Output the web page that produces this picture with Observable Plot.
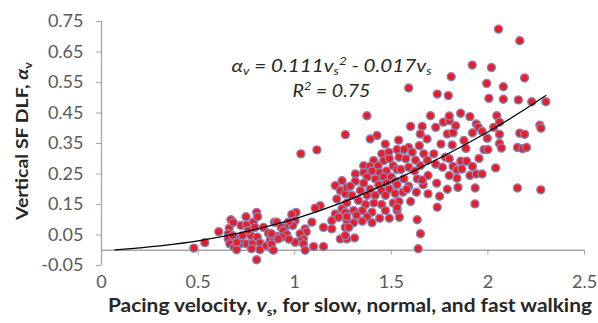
<!DOCTYPE html>
<html><head><meta charset="utf-8">
<script src="https://cdn.jsdelivr.net/npm/d3@7"></script>
<script src="https://cdn.jsdelivr.net/npm/@observablehq/plot@0.6"></script>
<style>body{margin:0;background:#fff;}#chart{width:598px;height:323px;}</style>
</head><body><div id="chart"></div>
<script>
// Pacing velocity v_s (m/s) of each measured walk
const velocity = [
0.478,0.535,0.607,0.661,0.670,0.682,0.656,0.656,0.664,0.687,0.700,0.708,0.722,0.748,0.751,0.730,0.725,0.751,0.773,0.780,
0.760,0.786,0.803,0.808,0.794,0.806,0.820,0.820,0.803,0.838,0.852,0.864,0.872,0.881,0.890,0.895,0.907,0.777,0.700,0.680,
1.262,1.032,1.115,1.210,1.245,1.236,1.218,1.262,1.270,1.245,1.210,1.192,1.227,1.262,1.270,1.262,1.236,1.270,1.192,1.149,
1.132,1.106,1.089,1.054,1.060,1.007,0.985,1.002,0.990,0.967,0.950,0.907,0.930,0.941,0.959,0.933,0.915,0.880,0.880,0.890,
1.028,1.045,1.028,1.002,1.045,1.054,1.098,1.149,0.970,
1.374,1.426,1.391,1.469,1.538,1.451,1.487,1.530,1.409,1.461,1.490,1.540,1.357,1.390,1.432,1.510,1.357,1.400,1.440,1.475,
1.530,1.314,1.375,1.417,1.460,1.500,1.314,1.357,1.435,1.475,1.520,1.288,1.390,1.340,1.450,1.490,1.296,1.375,1.417,1.470,
1.520,1.330,1.270,1.367,1.410,1.450,1.510,1.305,1.350,1.400,1.470,1.530,1.270,1.320,1.375,1.440,1.490,1.305,1.350,1.400,
1.280,1.262,1.310,
1.590,1.738,1.795,1.703,1.600,1.660,1.730,1.770,1.800,1.650,1.790,1.685,1.590,1.645,1.757,1.566,1.608,1.668,1.720,1.575,
1.625,1.687,1.780,1.590,1.650,1.730,1.550,1.620,1.765,1.565,1.635,1.690,1.530,1.590,1.665,1.735,1.560,1.630,1.690,1.540,
1.600,1.750,1.738,1.530,1.542,1.634,1.651,1.639,1.580,1.660,
2.055,1.919,2.018,1.810,1.994,2.080,2.005,2.080,1.859,1.907,1.800,2.046,2.060,1.833,1.940,1.950,1.970,1.920,2.030,1.820,
1.997,2.060,1.876,1.815,1.886,2.060,2.070,1.980,2.000,1.954,1.860,1.890,1.800,1.820,1.840,1.865,1.920,2.040,1.800,1.907,
1.940,1.970,1.840,1.790,1.845,1.934,1.933,
2.165,2.190,2.158,2.227,2.300,2.269,2.275,2.165,2.190,2.153,2.180,2.200,2.153,2.274
];
// Vertical SF dynamic load factor alpha_v of the same walks
const dlf = [
0.007,0.025,0.061,0.072,0.100,0.091,0.054,0.037,0.021,0.010,0.002,0.037,0.081,0.110,0.083,0.048,0.023,0.021,0.048,0.021,
0.065,0.092,0.124,0.110,0.075,0.043,0.024,0.002,-0.031,0.075,0.015,0.056,0.032,0.005,0.034,0.092,0.045,0.005,0.026,0.048,
0.379,0.316,0.329,0.212,0.228,0.196,0.168,0.185,0.206,0.136,0.119,0.097,0.108,0.124,0.097,0.075,0.037,0.037,0.070,0.075,
0.146,0.138,0.092,0.070,0.060,0.124,0.117,0.097,0.081,0.092,0.075,0.092,0.075,0.065,0.052,0.043,0.037,0.054,0.020,0.000,
0.054,0.037,0.030,0.026,0.021,0.000,0.012,0.012,0.036,
0.441,0.376,0.365,0.348,0.361,0.316,0.321,0.330,0.294,0.294,0.300,0.305,0.277,0.275,0.277,0.277,0.255,0.260,0.255,0.260,
0.265,0.250,0.240,0.234,0.240,0.240,0.226,0.220,0.215,0.220,0.226,0.210,0.200,0.196,0.196,0.200,0.180,0.180,0.180,0.180,
0.186,0.163,0.155,0.150,0.155,0.150,0.155,0.130,0.130,0.125,0.130,0.130,0.110,0.115,0.110,0.105,0.105,0.090,0.095,0.090,
0.075,0.048,0.040,
0.532,0.512,0.507,0.441,0.406,0.406,0.403,0.420,0.425,0.381,0.381,0.365,0.337,0.343,0.348,0.330,0.321,0.316,0.316,0.300,
0.295,0.295,0.305,0.272,0.277,0.282,0.265,0.260,0.272,0.234,0.234,0.245,0.215,0.210,0.215,0.220,0.190,0.190,0.185,0.160,
0.160,0.177,0.141,0.140,0.108,0.100,0.054,0.005,0.200,0.230,
0.725,0.607,0.599,0.569,0.547,0.536,0.498,0.495,0.449,0.438,0.440,0.441,0.420,0.408,0.414,0.403,0.390,0.385,0.403,0.385,
0.367,0.380,0.360,0.345,0.334,0.350,0.335,0.330,0.330,0.301,0.292,0.292,0.300,0.275,0.263,0.266,0.275,0.270,0.245,0.245,
0.250,0.250,0.236,0.200,0.206,0.204,0.152,
0.687,0.565,0.493,0.487,0.487,0.410,0.400,0.384,0.380,0.337,0.333,0.337,0.204,0.198
];
// Trend line as drawn in the figure
const trendVelocity = [0.07, 0.5, 1.0, 1.5, 2.0, 2.3];
const trendDlf = [0.001, 0.031, 0.103, 0.225, 0.388, 0.507];
// Axis ticks
const xTicks = [0, 0.5, 1, 1.5, 2, 2.5];
const yTicks = [-0.05, 0.05, 0.15, 0.25, 0.35, 0.45, 0.55, 0.65, 0.75];
// Annotation
const eqnPos = {v: 1.193, a: 0.583};
const r2Pos = {v: 1.193, a: 0.501};

const points = velocity.map((v, i) => ({v, a: dlf[i]}));
const trend = trendVelocity.map((v, i) => ({v, a: trendDlf[i]}));
const axisGray = "#a6a6a6";
const font = "Lato, 'Open Sans', sans-serif";

const plot = Plot.plot({
  width: 598, height: 323,
  marginLeft: 101, marginRight: 14, marginTop: 21, marginBottom: 58,
  style: {fontFamily: font, fontSize: "18px", color: "#595959", background: "#fff", overflow: "visible"},
  x: {domain: [0, 2.5]},
  y: {domain: [-0.05, 0.75]},
  marks: [
    Plot.ruleX([0], {stroke: axisGray, strokeWidth: 1.3}),
    Plot.ruleY([0], {stroke: axisGray, strokeWidth: 1.3}),
    Plot.axisY(yTicks, {anchor: "left", tickSize: 5, tickPadding: 13, stroke: axisGray, tickFormat: d => d.toFixed(2), label: null}),
    Plot.axisX(xTicks, {anchor: "bottom", tickSize: 5, tickPadding: 20, dy: -15.3, stroke: axisGray, tickFormat: d => String(d), label: null}),
    Plot.dot(points, {x: "v", y: "a", r: 4, fill: "#ec1c24", stroke: "#8585bd", strokeWidth: 1.4}),
    Plot.line(trend, {x: "v", y: "a", curve: "natural", stroke: "#000", strokeWidth: 1.2})
  ]
});
document.getElementById("chart").append(plot);

const svg = d3.select(plot);
const sx = plot.scale("x"), sy = plot.scale("y");

// x-axis title
const xt = svg.append("text").attr("x", 350).attr("y", 312).attr("text-anchor", "middle")
  .attr("font-family", font).attr("font-size", 18).attr("font-weight", "bold").attr("fill", "#262626")
  .attr("textLength", 484).attr("lengthAdjust", "spacingAndGlyphs");
xt.append("tspan").text("Pacing velocity, ");
xt.append("tspan").attr("font-style", "italic").text("v");
xt.append("tspan").attr("font-size", 11).attr("dy", 4).text("s");
xt.append("tspan").attr("dy", -4).text(", for slow, normal, and fast walking");

// y-axis title
const yt = svg.append("text").attr("transform", "translate(28,141) rotate(-90)").attr("text-anchor", "middle")
  .attr("font-family", font).attr("font-size", 17).attr("font-weight", "bold").attr("fill", "#262626")
  .attr("textLength", 158).attr("lengthAdjust", "spacingAndGlyphs");
yt.append("tspan").text("Vertical SF DLF, ");
yt.append("tspan").attr("font-style", "italic").text("α");
yt.append("tspan").attr("font-size", 11).attr("dy", 4).text("v");

// equation annotation
const eq = svg.append("text").attr("x", sx.apply(eqnPos.v)).attr("y", sy.apply(eqnPos.a)).attr("text-anchor", "middle")
  .attr("font-family", font).attr("font-size", 17).attr("font-style", "italic").attr("fill", "#262626")
  .attr("textLength", 200).attr("lengthAdjust", "spacingAndGlyphs");
eq.append("tspan").text("α");
eq.append("tspan").attr("font-size", 11).attr("dy", 3).text("v");
eq.append("tspan").attr("dy", -3).text(" = 0.111v");
eq.append("tspan").attr("font-size", 11).attr("dy", 3).text("s");
eq.append("tspan").attr("font-size", 11).attr("dy", -10).text("2");
eq.append("tspan").attr("dy", 7).text(" - 0.017v");
eq.append("tspan").attr("font-size", 11).attr("dy", 3).text("s");

const r2 = svg.append("text").attr("x", sx.apply(r2Pos.v)).attr("y", sy.apply(r2Pos.a)).attr("text-anchor", "middle")
  .attr("font-family", font).attr("font-size", 17).attr("font-style", "italic").attr("fill", "#262626")
  .attr("textLength", 78).attr("lengthAdjust", "spacingAndGlyphs");
r2.append("tspan").text("R");
r2.append("tspan").attr("font-size", 11).attr("dy", -7).text("2");
r2.append("tspan").attr("dy", 7).text(" = 0.75");
</script>
</body></html>
